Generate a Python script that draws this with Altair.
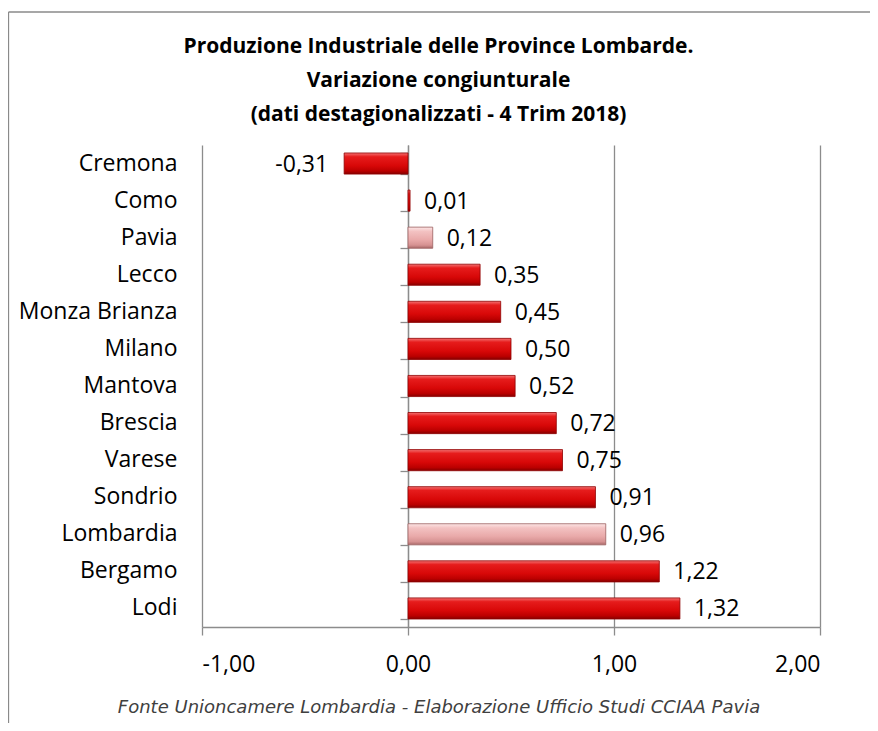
import altair as alt
import pandas as pd

# ---- data ----
provinces = ["Cremona", "Como", "Pavia", "Lecco", "Monza Brianza", "Milano", "Mantova",
             "Brescia", "Varese", "Sondrio", "Lombardia\u00a0", "Bergamo", "Lodi"]
values = [-0.31, 0.01, 0.12, 0.35, 0.45, 0.50, 0.52, 0.72, 0.75, 0.91, 0.96, 1.22, 1.32]
highlight = ["Pavia", "Lombardia\u00a0"]
x_ticks = [-1, 0, 1, 2]
title_lines = ["Produzione Industriale delle Province Lombarde.",
               "Variazione congiunturale",
               "(dati destagionalizzati - 4 Trim 2018)"]
source_note = "Fonte Unioncamere Lombardia - Elaborazione Ufficio Studi CCIAA Pavia"

df = pd.DataFrame({"provincia": provinces, "valore": values})
df["evidenza"] = df["provincia"].isin(highlight)

W, H = 618, 482
FONT = "Open Sans"
GRID = "#8c8c8c"
ZERO_PX = W / 3.0  # position of 0 on the [-1, 2] axis
FMT = "replace(replace(format({v}, '.2f'), '.', ','), '\u2212', '-')"

red_grad = alt.LinearGradient(
    gradient="linear", x1=0, y1=0, x2=0, y2=1,
    stops=[alt.GradientStop(offset=0, color="#f47272"),
           alt.GradientStop(offset=0.18, color="#e61c1c"),
           alt.GradientStop(offset=0.6, color="#d80808"),
           alt.GradientStop(offset=0.85, color="#bb0000"),
           alt.GradientStop(offset=1, color="#850000")])
pink_grad = alt.LinearGradient(
    gradient="linear", x1=0, y1=0, x2=0, y2=1,
    stops=[alt.GradientStop(offset=0, color="#fde6e6"),
           alt.GradientStop(offset=0.2, color="#f3c2c2"),
           alt.GradientStop(offset=0.6, color="#e9a9a9"),
           alt.GradientStop(offset=0.85, color="#d69292"),
           alt.GradientStop(offset=1, color="#a86868")])

yscale = alt.Scale(domain=provinces, paddingInner=0.43, paddingOuter=0.215)
xscale = alt.Scale(domain=[-1, 2], nice=False, zero=False)

x_axis = alt.Axis(values=x_ticks, grid=True, gridColor=GRID, gridWidth=1.3,
                  domain=True, domainColor=GRID, domainWidth=1.3,
                  ticks=True, tickColor=GRID, tickSize=8, tickWidth=1.3,
                  labelExpr=FMT.format(v="datum.value"),
                  labelFont=FONT, labelFontSize=23, labelColor="black",
                  labelBaseline="alphabetic", labelPadding=36,
                  title=source_note, titleFont="DejaVu Sans", titleFontStyle="italic",
                  titleFontWeight="normal", titleFontSize=18, titleColor="#404040",
                  titleX=W / 2 - 72.5, titleY=80, titleAlign="center",
                  titleBaseline="middle", titleAngle=0)
X = alt.X("valore:Q", scale=xscale, axis=x_axis)

y_main = alt.Y("provincia:N", scale=yscale, sort=provinces,
               axis=alt.Axis(orient="left", title=None, domain=False, ticks=False, grid=False,
                             labelFont=FONT, labelFontSize=23, labelColor="black",
                             labelPadding=25))
y_zero = alt.Y("provincia:N", scale=yscale, sort=provinces,
               axis=alt.Axis(orient="left", offset=-ZERO_PX, title=None, labels=False,
                             domain=True, domainColor=GRID, domainWidth=1.3,
                             ticks=True, tickBand="extent", tickColor=GRID, tickSize=8,
                             tickWidth=1.3, grid=False))
y_none = alt.Y("provincia:N", scale=yscale, sort=provinces, axis=None)

base = alt.Chart(df)

red_bars = base.transform_filter("!datum.evidenza").mark_bar(
    fill=red_grad, stroke="#8f0000", strokeWidth=0.8
).encode(x=X, y=y_main)

pink_bars = base.transform_filter("datum.evidenza").mark_bar(
    fill=pink_grad, stroke="#9c6060", strokeWidth=0.8
).encode(x=X, y=y_zero)

lab = base.transform_calculate(etichetta=FMT.format(v="datum.valore"))

pos_labels = lab.transform_filter("datum.valore >= 0").mark_text(
    align="left", baseline="middle", dx=14, dy=1, font=FONT, fontSize=23, color="black"
).encode(x=X, y=y_none, text="etichetta:N")

neg_labels = lab.transform_filter("datum.valore < 0").mark_text(
    align="right", baseline="middle", dx=-16, dy=1, font=FONT, fontSize=23, color="black"
).encode(x=X, y=y_none, text="etichetta:N")

one = alt.Data(values=[{"k": 1}])
title_layers = [
    alt.Chart(one).mark_text(font=FONT, fontSize=21, fontWeight="bold", color="black",
                             align="center", baseline="alphabetic").encode(
        x=alt.value(W / 2 - 72.5), y=alt.value(-92 + 34 * i), text=alt.value(t))
    for i, t in enumerate(title_lines)
]

top_border = alt.Chart(one).mark_rule(color="#8a8a8a", strokeWidth=1.3).encode(
    x=alt.value(-193.5), x2=alt.value(W + 80), y=alt.value(-133))
left_border = alt.Chart(one).mark_rule(color="#8a8a8a", strokeWidth=1.3).encode(
    x=alt.value(-193.5), y=alt.value(-133), y2=alt.value(H + 120))

chart = alt.layer(
    red_bars, pink_bars, pos_labels, neg_labels, top_border, left_border, *title_layers
).resolve_axis(y="independent").properties(
    width=W, height=H,
    autosize=alt.AutoSizeParams(type="none"),
    padding={"left": 194, "top": 137, "right": 50, "bottom": 96},
    background="white",
).configure_view(stroke=None)

chart.save("out.html", embed_options={"renderer": "svg", "actions": False})
